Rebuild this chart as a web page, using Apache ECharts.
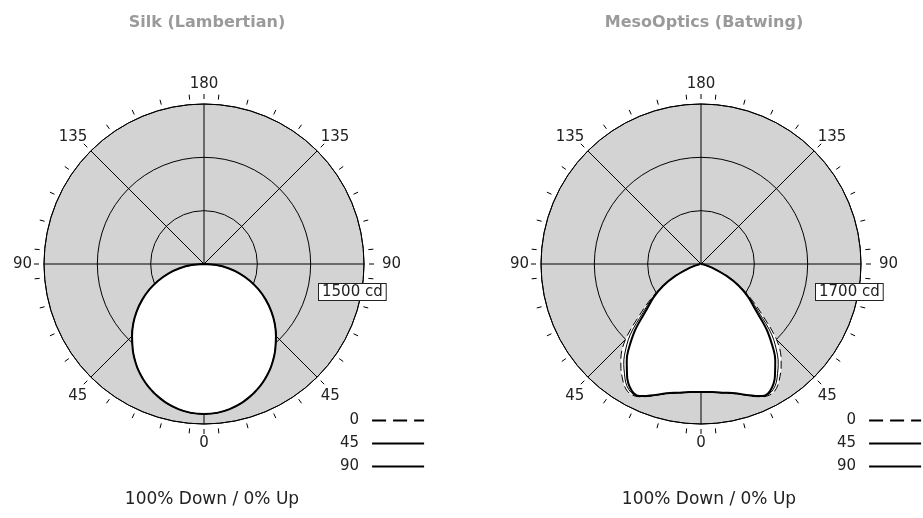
<!DOCTYPE html>
<html><head><meta charset="utf-8">
<script src="https://cdn.jsdelivr.net/npm/echarts@6/dist/echarts.min.js"></script>
<style>html,body{margin:0;padding:0;background:#fff}#c{width:923px;height:518px}</style>
</head><body><div id="c"></div>
<script>
// ---- data ----
const titles = ['Silk (Lambertian)', 'MesoOptics (Batwing)'];
const captions = ['100% Down / 0% Up', '100% Down / 0% Up'];
const radialMax = [1500, 1700];          // candela at the outer ring
const planeNames = ['0', '45', '90'];    // C-planes
const gammaAngles = [0,5,10,15,20,22.5,25,27.5,30,32.5,35,37.5,40,45,50,55,60,65,70,75,80,85,90];
// Silk (Lambertian) – all three planes coincide
const silkC0  = [1406,1401,1382,1351,1308,1283,1256,1226,1193,1159,1121,1082,1040,954,865,769,668,564,457,346,232,117,0];
const silkC45 = [1406,1401,1382,1351,1308,1283,1256,1226,1193,1159,1121,1082,1040,954,865,769,668,564,457,346,232,117,0];
const silkC90 = [1406,1401,1382,1351,1308,1283,1256,1226,1193,1159,1121,1082,1040,954,865,769,668,564,457,346,232,117,0];
// MesoOptics (Batwing)
const mesoC0  = [1360,1368,1392,1428,1490,1525,1556,1572,1562,1522,1462,1398,1325,1135,860,655,480,305,152,58,20,5,0];
const mesoC45 = [1360,1367,1390,1425,1487,1520,1552,1560,1537,1490,1418,1348,1265,1065,805,632,470,302,151,58,20,5,0];
const mesoC90 = [1360,1366,1388,1422,1485,1517,1548,1548,1512,1455,1373,1296,1204,988,754,613,466,300,150,58,20,5,0];

// ---- layout ----
const centers = [[204,264],[701,264]];
const R = 160;
const chartData = [[silkC0, silkC45, silkC90],[mesoC0, mesoC45, mesoC90]];
const planeStyle = [
  {width:1, type:[8,4]},
  {width:1, type:'solid'},
  {width:2, type:'solid'}
];

function mirror(vals){
  const out = [];
  for (let i = gammaAngles.length-1; i >= 1; i--) out.push([vals[i], -gammaAngles[i]]);
  for (let i = 0; i < gammaAngles.length; i++) out.push([vals[i], gammaAngles[i]]);
  return out;
}

const polar = [], angleAxis = [], radiusAxis = [], series = [], legend = [], graphic = [];
const black = '#000';
const FONT = '"DejaVu Sans", sans-serif';
const lbl = {fontSize:15, color:'#222', fontFamily:FONT};
const hiddenRadius = idx => ({polarIndex: idx, type:'value', min:0, max:1,
    axisLine:{show:false}, axisTick:{show:false}, axisLabel:{show:false}, splitLine:{show:false}});

centers.forEach((c, k) => {
  const base = k*4;
  // 0: main (lines, labels at 0/90/180)
  polar.push({center:c, radius:[0,R]});
  angleAxis.push({
    polarIndex: base, type:'value', min:-180, max:180, interval:45, startAngle:90, clockwise:true,
    axisLine:{show:true, lineStyle:{color:black, width:1, type:'solid'}},
    axisTick:{show:false},
    axisLabel:{show:true, margin:12, ...lbl,
      formatter: v => (v === -90 ? '{r|90}' : (Math.abs(v) % 90 === 0 ? String(Math.abs(v)) : '')),
      rich:{r:{...lbl, padding:[0,0,0,6]}}},
    splitLine:{show:true, lineStyle:{color:black, width:1, type:'solid'}},
    z: 2
  });
  radiusAxis.push({
    polarIndex: base, type:'value', min:0, max:radialMax[k], interval:radialMax[k]/3,
    axisLine:{show:false}, axisTick:{show:false}, axisLabel:{show:false},
    splitLine:{show:true, lineStyle:{color:black, width:1, type:'solid'}},
    splitArea:{show:false}, z: 2
  });
  // 1: minor ticks every 10 deg, offset 5
  polar.push({center:c, radius:[0,R+5]});
  angleAxis.push({
    polarIndex: base+1, type:'value', min:-180, max:180, interval:10, startAngle:85, clockwise:true,
    axisLine:{show:false}, axisLabel:{show:false}, splitLine:{show:false},
    axisTick:{show:true, length:5, lineStyle:{color:black, width:1}}
  });
  radiusAxis.push(hiddenRadius(base+1));
  // 2: ticks at 0/90/180
  polar.push({center:c, radius:[0,R+5]});
  angleAxis.push({
    polarIndex: base+2, type:'value', min:-180, max:180, interval:90, startAngle:90, clockwise:true,
    axisLine:{show:false}, axisLabel:{show:false}, splitLine:{show:false},
    axisTick:{show:true, length:5, lineStyle:{color:black, width:1}}
  });
  radiusAxis.push(hiddenRadius(base+2));
  // 3: grey disc underneath + diagonal labels (45/135)
  polar.push({center:c, radius:[0,R]});
  angleAxis.push({
    polarIndex: base+3, type:'value', min:-180, max:180, interval:45, startAngle:90, clockwise:true,
    axisLine:{show:false}, splitLine:{show:false}, axisTick:{show:false},
    axisLabel:{show:true, margin:5, ...lbl,
      formatter: v => (Math.abs(v) === 45 ? '{b|45}' : (Math.abs(v) === 135 ? '{t|135}' : '')),
      rich:{b:{...lbl, padding:[8,0,0,0]}, t:{...lbl, padding:[0,0,3,0]}}},
    z:0
  });
  radiusAxis.push({
    polarIndex: base+3, type:'value', min:0, max:radialMax[k], interval:radialMax[k]/3,
    axisLine:{show:false}, axisTick:{show:false}, axisLabel:{show:false}, splitLine:{show:false},
    splitArea:{show:true, areaStyle:{color:['#d3d3d3','#d3d3d3']}}, z: 0
  });

  // white fills
  chartData[k].forEach((vals, p) => {
    series.push({
      type:'line', coordinateSystem:'polar', polarIndex: base, name: 'fill'+k+p,
      data: mirror(vals), symbol:'none', smooth:0.35, silent:true,
      lineStyle:{width:0, opacity:0}, areaStyle:{color:'#fff', opacity:1}, z:3
    });
  });
  // outlines
  chartData[k].forEach((vals, p) => {
    series.push({
      type:'line', coordinateSystem:'polar', polarIndex: base, name: planeNames[p],
      data: mirror(vals), symbol:'none', smooth:0.35, silent:true,
      itemStyle:{color:black},
      lineStyle:{color:black, width:planeStyle[p].width, type:planeStyle[p].type}, z:4
    });
  });

  legend.push({
    orient:'vertical', align:'right', left: 335 + k*497, top: 408,
    itemWidth:52, itemHeight:14, itemGap:8, selectedMode:false,
    itemStyle:{color:'rgba(0,0,0,0)', borderWidth:0, opacity:0},
    textStyle:{fontSize:15, color:'#222', fontFamily:FONT, width:22, padding:[0,8,0,0]},
    data: planeNames.map((n,p) => p === 0 ? {name:n, lineStyle:{type:[14,7]}} : {name:n})
  });

  graphic.push({
    type:'text', x: c[0] + 3, y: 23, silent:true,
    style:{text: titles[k], fill:'#9a9a9a', font:'bold 16px ' + FONT, align:'center', verticalAlign:'middle'}
  });
  graphic.push({
    type:'text', x: c[0] + 8, y: 500, silent:true,
    style:{text: captions[k], fill:'#222', font:'17px ' + FONT, align:'center', verticalAlign:'middle'}
  });
  graphic.push({
    type:'text', x: c[0] + 115, y: c[1] + 20, silent:true, z: 10,
    style:{text: radialMax[k] + ' cd', fill:'#222', font:'15px ' + FONT, align:'left', verticalAlign:'top',
      backgroundColor:'#fff', borderColor:'#222', borderWidth:1, padding:[1,3,0,3]}
  });
});

const chart = echarts.init(document.getElementById('c'));
chart.setOption({
  animation:false,
  backgroundColor:'#fff',
  polar, angleAxis, radiusAxis, series, legend, graphic
});
</script>
</body></html>
